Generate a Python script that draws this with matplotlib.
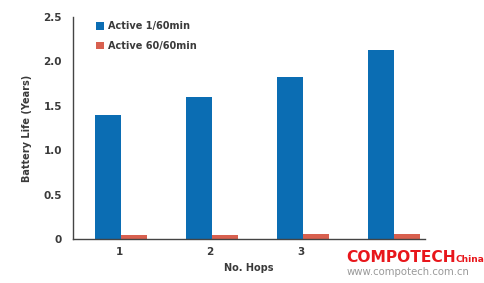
import matplotlib.pyplot as plt
import numpy as np

# values
hops = ["1", "2", "3", "4"]
active_1_60 = [1.40, 1.60, 1.82, 2.13]
active_60_60 = [0.05, 0.05, 0.06, 0.06]
yticks = [0, 0.5, 1.0, 1.5, 2.0, 2.5]
ytick_labels = ["0", "0.5", "1.0", "1.5", "2.0", "2.5"]

blue = "#0b6db3"
red = "#d8604f"
txt = "#3a3a3a"

fig = plt.figure(figsize=(4.85, 2.83), dpi=100)
ax = fig.add_axes([0.1505, 0.1555, 0.7255, 0.784])

x = np.arange(1, len(hops) + 1)
w = 0.285
ax.bar(x - w / 2 + 0.02, active_1_60, width=w, color=blue, label="Active 1/60min")
ax.bar(x + w / 2 + 0.02, active_60_60, width=w, color=red, label="Active 60/60min")

ax.set_xlim(0.495, 4.36)
ax.set_ylim(0, 2.5)
ax.set_xticks(x)
ax.set_xticklabels(hops)
ax.set_yticks(yticks)
ax.set_yticklabels(ytick_labels)
ax.tick_params(axis="y", length=0, labelsize=7.5, colors=txt, pad=8)
ax.tick_params(axis="x", length=0, labelsize=7.5, colors=txt, pad=6)
for lab in ax.get_xticklabels() + ax.get_yticklabels():
    lab.set_fontweight("bold")

for s in ["top", "right"]:
    ax.spines[s].set_visible(False)
for s in ["left", "bottom"]:
    ax.spines[s].set_color("#444444")
    ax.spines[s].set_linewidth(1.0)

ax.set_ylabel("Battery Life (Years)", fontsize=7, fontweight="bold", color=txt, labelpad=8)
ax.set_xlabel("No. Hops", fontsize=7, fontweight="bold", color=txt, labelpad=4)

leg = ax.legend(loc="upper left", bbox_to_anchor=(0.04, 1.02), frameon=False,
                handlelength=0.8, handleheight=0.8, handletextpad=0.5,
                labelspacing=0.95, prop={"weight": "bold", "size": 7})
for t in leg.get_texts():
    t.set_color(txt)

# watermark (in the reference it sits over the "4" tick label)
fig.text(0.713, 0.064, "COMPOTECH", color="#e8161b", fontsize=11.2, fontweight="bold",
         va="bottom", bbox=dict(facecolor="white", edgecolor="none", pad=3.5), zorder=5)
fig.text(0.94, 0.066, "China", color="#e8161b", fontsize=6.5, fontweight="bold",
         va="bottom", zorder=6)
fig.text(0.715, 0.022, "www.compotech.com.cn", color="#999999", fontsize=7.3, va="bottom",
         zorder=6)

fig.savefig("out.png", dpi=100)
